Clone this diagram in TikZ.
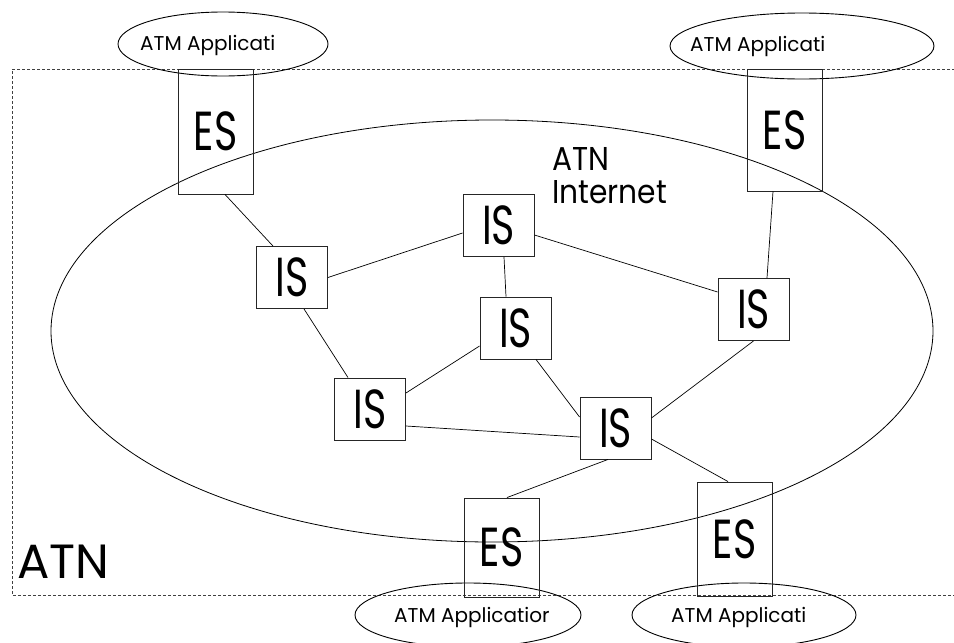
\documentclass[tikz,border=0pt]{standalone}
\usepackage{fontspec}
\setmainfont{Poppins}[FakeStretch=0.72]
\newfontfamily\widefont{Poppins}
\newfontfamily\midfont{Poppins}[FakeStretch=0.9]
\usetikzlibrary{shapes.geometric}
\begin{document}
\begin{tikzpicture}[x=1pt,y=-1pt,
  box/.style={draw=black!85, line width=0.9pt, inner sep=0pt, font=\fontsize{55}{55}\selectfont},
  isbox/.style={box, minimum width=71pt, minimum height=62pt},
  esbox/.style={box, minimum width=75pt},
  link/.style={draw=black, line width=0.7pt},
  app/.style={draw=black, ellipse, line width=0.9pt, inner sep=0pt},
  apptext/.style={font=\widefont\fontsize{20}{20}\selectfont, inner sep=0pt},
  frame/.style={draw=black!75, line width=0.8pt, dash pattern=on 3pt off 2pt}]
\useasboundingbox (0,0) rectangle (954,643);
% outer dashed frame (right side runs off the picture)
\draw[frame] (960,69) -- (12,69) -- (12,595) -- (960,595);
% ATN internet ellipse
\node[app, minimum width=882pt, minimum height=422pt, line width=0.8pt] (net) at (492,331) {};
\node[font=\midfont\fontsize{33}{33}\selectfont, align=left, anchor=north west, inner sep=0pt] (nettext) at (552,147) {ATN\\Internet};
\node[font=\widefont\fontsize{48}{48}\selectfont, anchor=base west, inner sep=0pt] (atn) at (17,578) {ATN};
% application ellipses
\node[app, minimum width=210pt, minimum height=64pt] (appTL) at (223,44) {};
\node[app, minimum width=264pt, minimum height=66pt] (appTR) at (802,46) {};
\node[app, minimum width=226pt, minimum height=64pt] (appBL) at (468,615) {};
\node[app, minimum width=224pt, minimum height=64pt] (appBR) at (744,615) {};
\node[apptext, anchor=west] (tTL) at (140,45) {ATM Applicati};
\node[apptext, anchor=west] (tTR) at (690,46) {ATM Applicati};
\node[apptext, anchor=west] (tBL) at (394,617) {ATM Applicatior};
\node[apptext, anchor=west] (tBR) at (671,617) {ATM Applicati};
% end systems
\node[esbox, minimum height=125pt] (es1) at (215.5,131.5) {ES};
\node[esbox, minimum height=122pt] (es2) at (784.5,130) {ES};
\node[esbox, minimum height=99pt] (es3) at (501.5,547.5) {ES};
\node[esbox, minimum height=114pt] (es4) at (734.5,539) {ES};
% intermediate systems
\node[isbox] (is1) at (292,277.5) {IS};
\node[isbox] (is2) at (498.5,225.5) {IS};
\node[isbox] (is3) at (515.5,328) {IS};
\node[isbox] (is4) at (753.5,309.5) {IS};
\node[isbox] (is5) at (370,409) {IS};
\node[isbox] (is6) at (615.5,428) {IS};
% links
\draw[link] ([xshift=9.5pt]es1.south) -- ([xshift=-19pt]is1.north);
\draw[link] (is1.east) -- ([yshift=-7.5pt]is2.west);
\draw[link] ([xshift=12pt]is1.south) -- ([xshift=-22pt]is5.north);
\draw[link] ([xshift=5.5pt]is2.south) -- ([xshift=-9.5pt]is3.north);
\draw[link] ([yshift=-9.5pt]is2.east) -- ([yshift=17.5pt]is4.west);
\draw[link] ([xshift=-11.5pt]es2.south) -- ([xshift=13.5pt]is4.north);
\draw[link] ([yshift=-18pt]is3.west) -- ([yshift=16pt]is5.east);
\draw[link] ([xshift=20.5pt]is3.south) -- ([yshift=11pt]is6.west);
\draw[link] (is4.south) -- ([yshift=10pt]is6.east);
\draw[link] ([yshift=-17pt]is5.east) -- ([yshift=-9pt]is6.west);
\draw[link] ([xshift=-7.5pt]is6.south) -- ([xshift=5.5pt]es3.north);
\draw[link] ([yshift=-11pt]is6.east) -- ([xshift=-6.5pt]es4.north);
\end{tikzpicture}
\end{document}
